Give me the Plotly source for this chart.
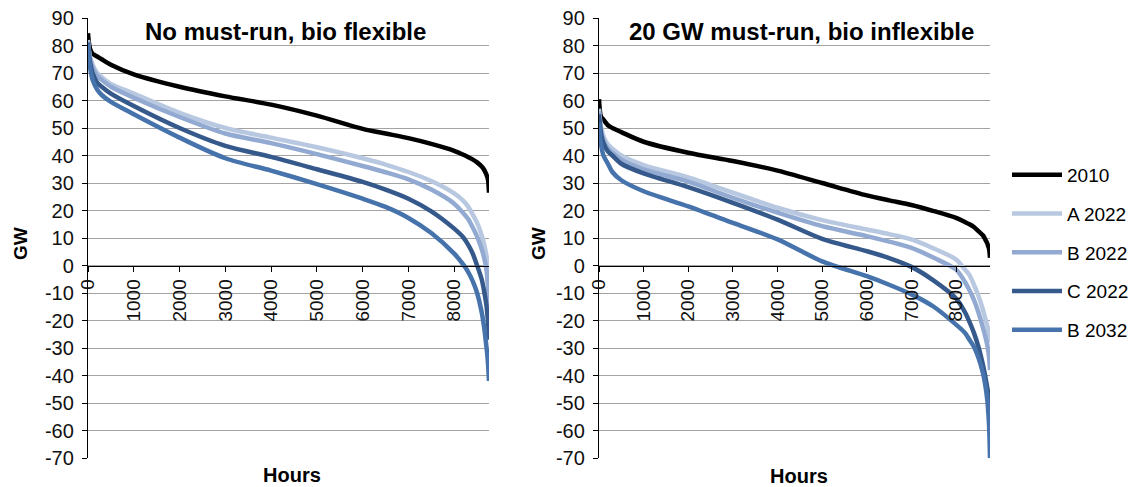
import plotly.graph_objects as go

# ---------------- data ----------------
hours = [0, 10, 30, 50, 100, 200, 300, 500, 1000, 2000, 3000, 4000, 5000, 6000, 6500, 7000,
         7500, 8000, 8200, 8300, 8400, 8500, 8600, 8650, 8700, 8720, 8740, 8760]

series_names = ["2010", "A 2022", "B 2022", "C 2022", "B 2032"]

# Left panel: No must-run, bio flexible
left_2010 = [84.5, 82.5, 80, 78.5, 77, 76, 75, 73, 69.5, 65, 61.5, 58.5, 54.5, 49.7, 48, 46.3,
             44.2, 41.7, 40.3, 39.5, 38.6, 37.5, 36, 34.9, 33.2, 32.3, 31, 26.5]
left_A2022 = [82, 80, 77, 75.5, 73, 70, 68.5, 66, 62.5, 55.5, 50, 46.5, 43, 39, 36.7, 34,
              30.7, 26.2, 23.5, 21.5, 18.7, 15.5, 11, 8, 4, 1.5, -1.5, -5]
left_B2022 = [81.5, 79.5, 76.5, 75, 72, 69, 67.5, 65, 61, 54, 48, 44.5, 40.5, 36.2, 33.9, 31.3,
              27.6, 22.5, 19, 17, 14, 10.5, 6, 3, -1, -4, -8.5, -15]
left_C2022 = [81, 79, 75.5, 73.5, 70, 66.5, 65, 62.5, 58, 50, 43.5, 39.5, 35, 30.4, 27.6, 24.3,
              19.7, 13.4, 10.2, 7.7, 4.5, 0, -5, -9, -14, -17, -21, -27]
left_B2032 = [80.5, 78.5, 74, 71.5, 67.5, 64, 62, 59.5, 55, 46.5, 39, 34.5, 29.6, 24.3, 21.3, 17.3,
              11.8, 4.3, 0.3, -2.2, -5.5, -10, -17, -22, -29, -32, -36, -42]

# Right panel: 20 GW must-run, bio inflexible
right_2010 = [60.5, 58, 55, 54, 53, 51, 50, 48.5, 45, 41, 38, 34.5, 30, 25.5, 23.7, 22,
              19.8, 17.3, 15.8, 15, 14, 12.5, 11, 9.6, 8, 7, 6, 2.8]
right_A2022 = [57, 55, 52, 50, 47, 44, 42.5, 40, 36.5, 32, 26.5, 21, 16.5, 13.1, 11.4, 9.5,
               6.2, 2.2, -1.5, -3.5, -7, -11, -16, -19, -22, -23.5, -25.5, -28]
right_B2022 = [56, 54, 51, 48.5, 45.5, 42.5, 41, 38.5, 35, 30.5, 24.6, 19.2, 14.3, 10.7, 8.7, 6.4,
               2.8, -1.5, -6, -9, -12.5, -17, -22.5, -25.5, -29, -31, -33.5, -38]
right_C2022 = [55, 53, 50, 47.5, 44.5, 41.5, 40, 37, 33.5, 28.5, 22.8, 16.7, 9.7, 5.2, 2.7, -0.5,
               -5.5, -12, -17, -20.5, -24.5, -29.5, -36, -40, -44.5, -46.5, -49, -53]
right_B2032 = [52, 50, 46, 43.5, 40, 37, 34, 31, 27, 21.5, 15.5, 9.5, 1.5, -3.9, -7, -10.5,
               -15, -21.5, -24.5, -27, -29.5, -33.5, -39, -43, -49, -53, -58.5, -70]

panel_titles = ["No must-run, bio flexible", "20 GW must-run, bio inflexible"]
x_tick_vals = [0, 1000, 2000, 3000, 4000, 5000, 6000, 7000, 8000]
x_tick_labels = ["0", "1000", "2000", "3000", "4000", "5000", "6000", "7000", "8000"]
y_tick_vals = [-70, -60, -50, -40, -30, -20, -10, 0, 10, 20, 30, 40, 50, 60, 70, 80, 90]
y_tick_labels = ["-70", "-60", "-50", "-40", "-30", "-20", "-10", "0", "10", "20", "30",
                 "40", "50", "60", "70", "80", "90"]

# ---------------- style ----------------
colors = ["#000000", "#B9C8E1", "#92AAD1", "#36598C", "#4673AB"]
FONT = "Liberation Sans, Arial, sans-serif"
W, H = 1139, 487

left_series = [left_2010, left_A2022, left_B2022, left_C2022, left_B2032]
right_series = [right_2010, right_A2022, right_B2022, right_C2022, right_B2032]

fig = go.Figure()

for i, (name, vals) in enumerate(zip(series_names, left_series)):
    fig.add_trace(go.Scatter(
        x=hours, y=vals, mode="lines", name=name, legendgroup=name,
        line=dict(color=colors[i], width=4.5, shape="spline", smoothing=0.8),
        xaxis="x", yaxis="y", showlegend=True))
for i, (name, vals) in enumerate(zip(series_names, right_series)):
    fig.add_trace(go.Scatter(
        x=hours, y=vals, mode="lines", name=name, legendgroup=name,
        line=dict(color=colors[i], width=4.5, shape="spline", smoothing=0.8),
        xaxis="x2", yaxis="y2", showlegend=False))

ydom = [1 - 458 / H, 1 - 18 / H]
xdom1 = [88 / W, 489 / W]
xdom2 = [599 / W, 990 / W]
zero_pos = ydom[0] + (0 - (-70)) / 160 * (ydom[1] - ydom[0])

common_y = dict(range=[-70, 90], tickvals=y_tick_vals, ticktext=y_tick_labels, showgrid=True,
                gridcolor="#A3A3A3", gridwidth=1.2, zeroline=False,
                showline=True, linecolor="#000000", linewidth=1.3,
                ticks="outside", ticklen=5, tickcolor="#000000", ticklabelstandoff=4,
                tickfont=dict(family=FONT, size=20, color="#111111"),
                domain=ydom, automargin=False)
common_x = dict(range=[0, 8760], tickvals=x_tick_vals, ticktext=x_tick_labels, showgrid=False,
                zeroline=False, showline=True, linecolor="#000000", linewidth=1.3,
                ticks="outside", ticklen=5, tickcolor="#000000", tickangle=-90,
                tickfont=dict(family=FONT, size=19, color="#111111"),
                anchor="free", position=zero_pos, automargin=False)

fig.update_layout(
    width=W, height=H,
    margin=dict(l=0, r=0, t=0, b=0, autoexpand=False),
    paper_bgcolor="white", plot_bgcolor="white",
    font=dict(family=FONT, size=19, color="#000000"),
    xaxis=dict(domain=xdom1, **common_x),
    yaxis=dict(anchor="x", **common_y),
    xaxis2=dict(domain=xdom2, **common_x),
    yaxis2=dict(anchor="x2", **common_y),
    legend=dict(x=1007 / W, y=1 - 156 / H, xanchor="left", yanchor="top",
                font=dict(family=FONT, size=19, color="#000000"),
                tracegroupgap=11, itemwidth=50, bgcolor="rgba(0,0,0,0)"),
    showlegend=True,
)

annotations = [
    dict(text="<b>" + panel_titles[0] + "</b>", x=285 / W, y=1 - 32 / H, size=24),
    dict(text="<b>" + panel_titles[1] + "</b>", x=802 / W, y=1 - 32 / H, size=24),
    dict(text="<b>Hours</b>", x=292 / W, y=1 - 475 / H, size=20),
    dict(text="<b>Hours</b>", x=799 / W, y=1 - 476 / H, size=20),
    dict(text="<b>GW</b>", x=20 / W, y=1 - 244 / H, textangle=-90, size=19),
    dict(text="<b>GW</b>", x=538 / W, y=1 - 244 / H, textangle=-90, size=19),
]
for a in annotations:
    size = a.pop("size")
    fig.add_annotation(xref="paper", yref="paper", showarrow=False,
                       xanchor="center", yanchor="middle",
                       font=dict(family=FONT, size=size, color="#000000"), **a)

fig.write_html("out.html")
